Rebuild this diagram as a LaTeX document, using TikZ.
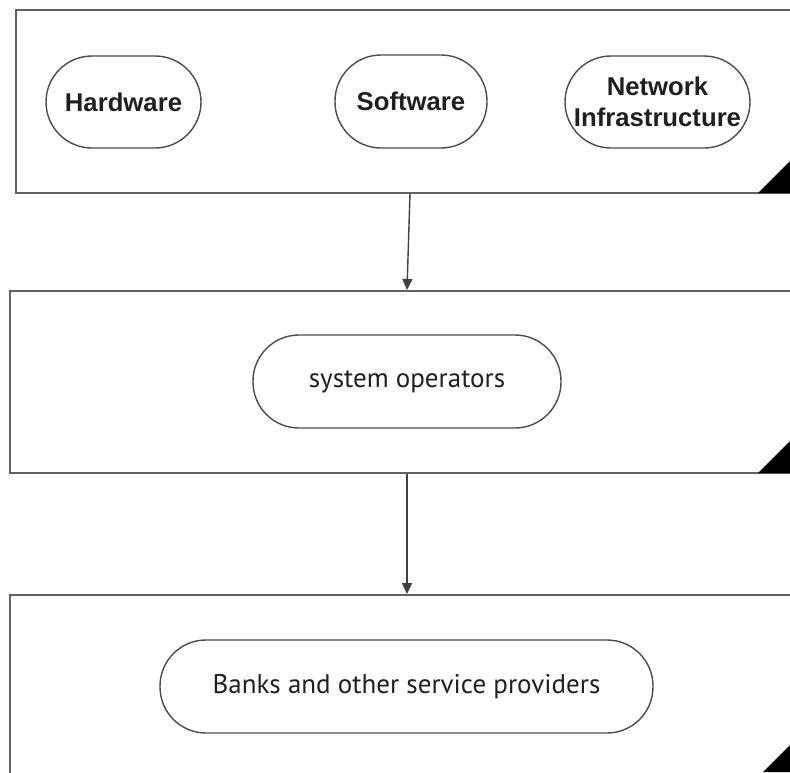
\documentclass[tikz,border=0pt]{standalone}
\usepackage{fontspec}
\setmainfont{Liberation Sans}
\newfontfamily\lowfont{PT Sans}
\usetikzlibrary{arrows.meta}
\begin{document}
\begin{tikzpicture}[x=1pt,y=-1pt,
  outerbox/.style={draw=black!62, line width=2pt, inner sep=0pt, rectangle},
  pill/.style={draw=black!70, line width=1.4pt, rectangle, rounded corners=46pt, inner sep=0pt, align=center, text=black!88},
  boldtxt/.style={font=\bfseries\fontsize{25.7}{31}\selectfont},
  lighttxt/.style={font=\lowfont\fontsize{27}{31}\selectfont},
  conn/.style={draw=black!75, line width=1.4pt, -{Triangle[length=11pt,width=10pt]}},
  corner/.style={fill=black}
]
\useasboundingbox (0,0) rectangle (790,772);
\clip (0,0) rectangle (790,772);
% outer boxes
\node[outerbox, minimum width=784pt, minimum height=183pt] (box1) at (408,101.5) {};
\node[outerbox, minimum width=790pt, minimum height=182pt] (box2) at (405,382) {};
\node[outerbox, minimum width=790pt, minimum height=200pt] (box3) at (405,695) {};
% corner triangles
\fill[corner] (758,193) -- (792,193) -- (792,159) -- cycle;
\fill[corner] (758,473) -- (792,473) -- (792,439) -- cycle;
\fill[corner] (763,772) -- (792,772) -- (792,743) -- cycle;
% pills
\node[pill, boldtxt, minimum width=155pt, minimum height=92pt] (hw) at (123.5,102) {Hardware};
\node[pill, boldtxt, minimum width=152pt, minimum height=93pt] (sw) at (411,101.5) {Software};
\node[pill, boldtxt, minimum width=185pt, minimum height=92pt] (ni) at (657.5,102) {Network\\Infrastructure};
\node[pill, lighttxt, minimum width=308pt, minimum height=93pt] (so) at (407,381.5) {system operators};
\node[pill, lighttxt, minimum width=493pt, minimum height=93pt] (bk) at (406.5,686.5) {Banks and other service providers};
% connectors
\coordinate (a1) at (410,193);
\coordinate (a2) at (407,290);
\draw[conn] (a1) -- (a2);
\coordinate (b1) at (407,474);
\coordinate (b2) at (407,594);
\draw[conn] (b1) -- (b2);
\end{tikzpicture}
\end{document}
